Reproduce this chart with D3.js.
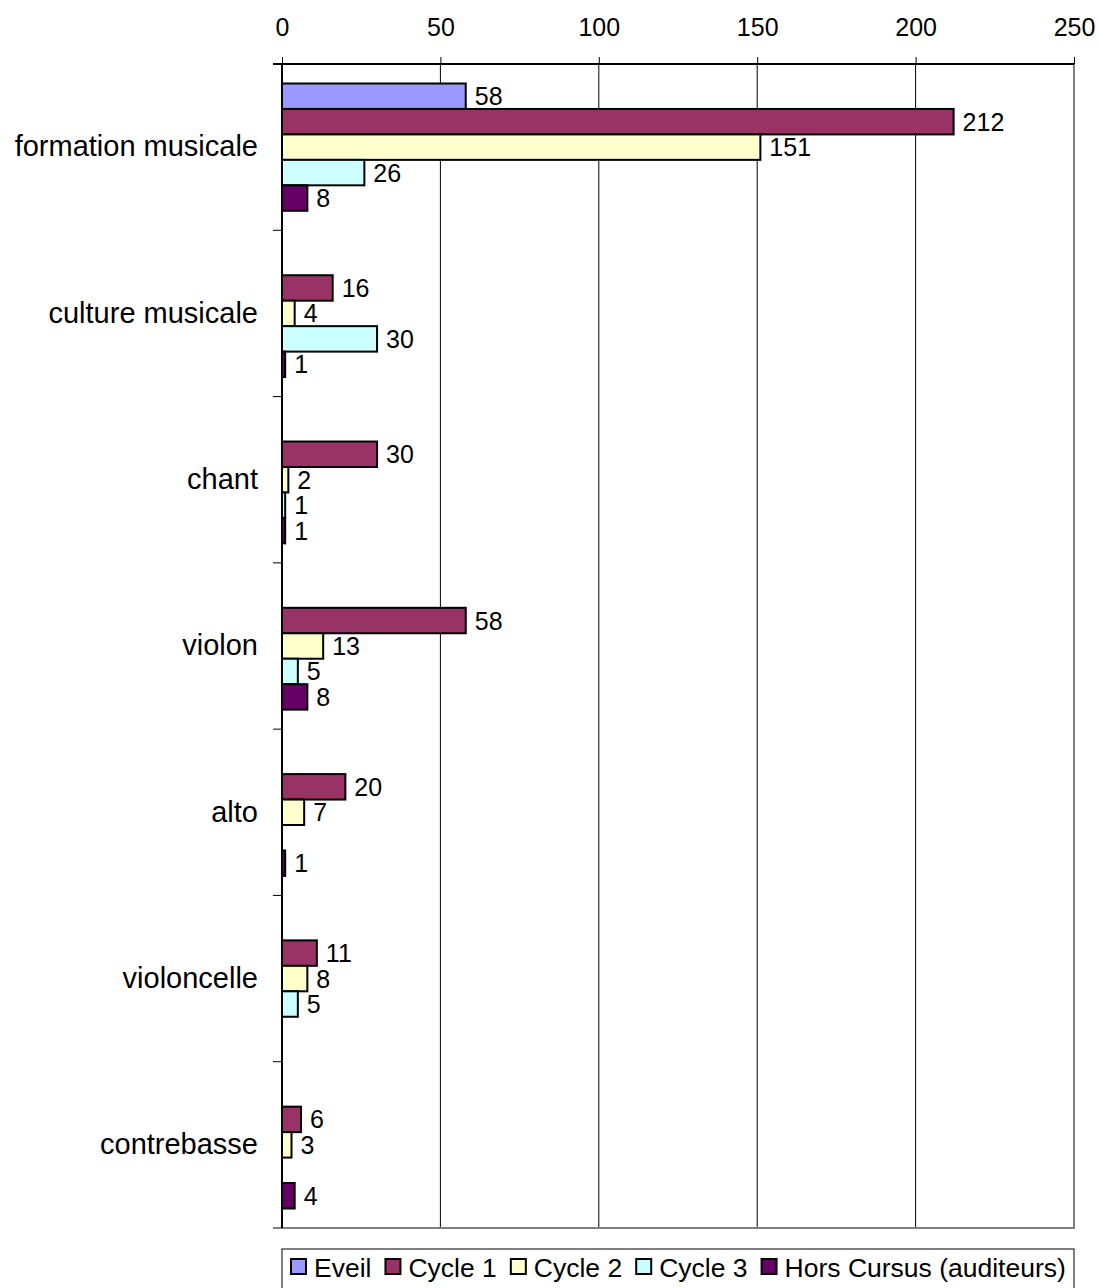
<!DOCTYPE html>
<html>
<head>
<meta charset="utf-8">
<script src="https://cdn.jsdelivr.net/npm/d3@7"></script>
<style>
  body { margin: 0; background: #fff; }
  svg text { font-family: "Liberation Sans", Arial, sans-serif; fill: #000; }
</style>
</head>
<body>
<svg id="chart" width="1100" height="1288"></svg>
<script>
// categories (top to bottom)
var categories = ["formation musicale", "culture musicale", "chant", "violon", "alto", "violoncelle", "contrebasse"];
var seriesNames = ["Eveil", "Cycle 1", "Cycle 2", "Cycle 3", "Hors Cursus (auditeurs)"];
var seriesColors = ["#9999ff", "#993366", "#ffffcc", "#ccffff", "#660066"];

// values per series, null = no bar
var eveil   = [58, null, null, null, null, null, null];
var cycle1  = [212, 16, 30, 58, 20, 11, 6];
var cycle2  = [151, 4, 2, 13, 7, 8, 3];
var cycle3  = [26, 30, 1, 5, null, 5, null];
var hors    = [8, 1, 1, 8, 1, null, 4];
var xTicks  = [0, 50, 100, 150, 200, 250];

var allSeries = [eveil, cycle1, cycle2, cycle3, hors];

var margin = {top: 64, right: 26, bottom: 60, left: 282},
  width = 1100 - margin.left - margin.right,
  height = 1288 - margin.top - margin.bottom;

var svg = d3.select("#chart")
  .append("g")
  .attr("transform", "translate(" + margin.left + "," + margin.top + ")");

var x = d3.scaleLinear()
  .domain([0, 250])
  .range([0, width]);

var y0 = d3.scaleBand()
  .domain(categories)
  .range([0, height])
  .padding(0);

var y1 = d3.scaleBand()
  .domain(d3.range(seriesNames.length))
  .range([19.5, y0.bandwidth() - 19.5])
  .padding(0);

// gridlines
svg.selectAll(".grid")
  .data(xTicks.slice(1, -1))
  .enter().append("line")
  .attr("x1", function(d) { return x(d); })
  .attr("x2", function(d) { return x(d); })
  .attr("y1", 0)
  .attr("y2", height)
  .attr("stroke", "#000")
  .attr("stroke-width", 1);

// right / bottom frame
svg.append("path")
  .attr("d", "M" + x(250) + ",0V" + height + "H0")
  .attr("fill", "none")
  .attr("stroke", "#808080")
  .attr("stroke-width", 2);

// bars
var groups = svg.selectAll(".cat")
  .data(categories)
  .enter().append("g")
  .attr("class", "cat")
  .attr("transform", function(d) { return "translate(0," + y0(d) + ")"; });

groups.each(function(cat, ci) {
  var g = d3.select(this);
  var rows = allSeries.map(function(s, si) { return {si: si, v: s[ci]}; })
    .filter(function(d) { return d.v != null; });

  g.selectAll("rect")
    .data(rows)
    .enter().append("rect")
    .attr("x", x(0))
    .attr("y", function(d) { return y1(d.si); })
    .attr("width", function(d) { return x(d.v) - x(0); })
    .attr("height", y1.bandwidth())
    .attr("fill", function(d) { return seriesColors[d.si]; })
    .attr("stroke", "#000")
    .attr("stroke-width", 2);

  g.selectAll("text")
    .data(rows)
    .enter().append("text")
    .attr("x", function(d) { return x(d.v) + 9; })
    .attr("y", function(d) { return y1(d.si) + y1.bandwidth() / 2; })
    .attr("dy", "0.36em")
    .style("font-size", "25px")
    .text(function(d) { return d.v; });
});

// top axis
var xAxis = d3.axisTop(x).tickValues(xTicks).tickSize(7).tickPadding(21);
var gx = svg.append("g").attr("class", "x axis").call(xAxis);
gx.select(".domain").attr("stroke", "#000").attr("stroke-width", 2)
  .attr("d", "M-9,0H" + width);
gx.selectAll(".tick line").attr("stroke", "#000");
gx.selectAll("text").style("font-size", "25px").attr("font-family", null);

// left axis with ticks at band boundaries
var yAxis = d3.axisLeft(y0).tickSize(0).tickPadding(24);
var gy = svg.append("g").attr("class", "y axis").call(yAxis);
gy.select(".domain").attr("stroke", "#000").attr("stroke-width", 2).attr("d", "M0,0V" + height);
gy.selectAll("text").style("font-size", "29px").attr("font-family", null);

svg.selectAll(".ytick")
  .data(d3.range(categories.length + 1))
  .enter().append("line")
  .attr("x1", -9)
  .attr("x2", 0)
  .attr("y1", function(i) { return i * y0.step(); })
  .attr("y2", function(i) { return i * y0.step(); })
  .attr("stroke", "#000");

// legend
var legend = d3.select("#chart").append("g")
  .attr("transform", "translate(" + margin.left + ",1249)");

legend.append("rect")
  .attr("x", 0).attr("y", 0)
  .attr("width", width).attr("height", 48)
  .attr("fill", "#fff")
  .attr("stroke", "#000")
  .attr("stroke-width", 1);

var lx = 9;
seriesNames.forEach(function(name, i) {
  legend.append("rect")
    .attr("x", lx).attr("y", 10)
    .attr("width", 15).attr("height", 15)
    .attr("fill", seriesColors[i])
    .attr("stroke", "#000")
    .attr("stroke-width", 2);
  var t = legend.append("text")
    .attr("x", lx + 23)
    .attr("y", 18)
    .attr("dy", "0.36em")
    .style("font-size", "26.5px")
    .text(name);
  lx += 23 + t.node().getComputedTextLength() + 14;
});
</script>
</body>
</html>
